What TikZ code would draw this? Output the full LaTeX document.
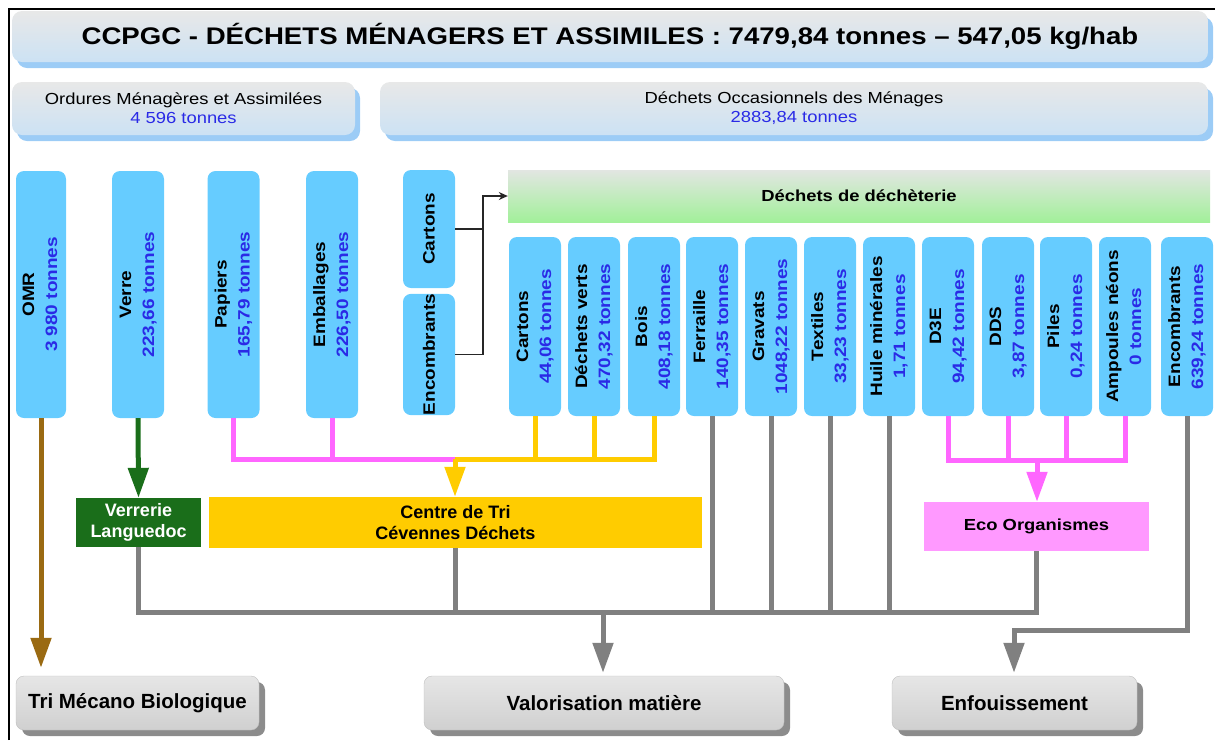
\documentclass[tikz,border=0pt]{standalone}
\usepackage{fontspec}
\setmainfont{Liberation Sans}
\newfontfamily\widef{Liberation Sans}[FakeStretch=1.15]
\usetikzlibrary{arrows.meta,shadows}
\definecolor{hdrtop}{HTML}{E8E8E8}
\definecolor{hdrbot}{HTML}{CCE2F4}
\definecolor{hdrshadow}{HTML}{9CCCF6}
\definecolor{greentop}{HTML}{E2E6E2}
\definecolor{greenbot}{HTML}{A2F09A}
\definecolor{boxblue}{HTML}{66CCFF}
\definecolor{tblue}{HTML}{2A2AE6}
\definecolor{yellowc}{HTML}{FFCC00}
\definecolor{pinkl}{HTML}{FF66FF}
\definecolor{pinkbox}{HTML}{FF99FF}
\definecolor{dgreen}{HTML}{1A6E1A}
\definecolor{brownc}{HTML}{9A6A12}
\definecolor{greyl}{HTML}{808080}
\definecolor{btop}{HTML}{E6E6E6}
\definecolor{bbot}{HTML}{D0D0D0}
\definecolor{bshadow}{HTML}{8C8C8C}
\newcommand\vlab[2]{\rotatebox{90}{\begin{tabular}{@{}c@{}}\textbf{#1}\\\textcolor{tblue}{\textbf{#2}}\end{tabular}}}
\newcommand\vone[1]{\rotatebox{90}{\textbf{#1}}}
\begin{document}
\begin{tikzpicture}[x=1pt,y=-1pt,
  hdr/.style={rounded corners=10pt, top color=hdrtop, bottom color=hdrbot, inner sep=0pt,
    drop shadow={shadow xshift=5pt, shadow yshift=-6pt, fill=hdrshadow, opacity=1},
    font=\widef\fontsize{16}{19}\selectfont, align=center},
  vbox/.style={fill=boxblue, rounded corners=8pt, inner sep=0pt, minimum width=52pt,
    font=\widef\fontsize{16.5}{23}\selectfont},
  rowbox/.style={vbox, minimum height=179pt},
  colbox/.style={vbox, minimum height=247pt},
  flat/.style={inner sep=0pt, align=center},
  bottombox/.style={rounded corners=8pt, top color=btop, bottom color=bbot, draw=black!25,
    inner sep=0pt, minimum height=54pt,
    drop shadow={shadow xshift=6pt, shadow yshift=-6pt, fill=bshadow, opacity=1},
    font=\bfseries\fontsize{20.5}{24}\selectfont},
  link/.style={line width=5pt},
  bigtip/.style={-{Triangle[length=30pt,width=20pt]}},
  ]
\useasboundingbox (0,0) rectangle (1215,740);
% frame
\draw[line width=2pt] (9,740) -- (9,9) -- (1215,9);

% headers
\node[hdr, minimum width=1196pt, minimum height=51pt, font=\widef\bfseries\fontsize{24}{28}\selectfont]
  (title) at (610,36.5) {CCPGC - DÉCHETS MÉNAGERS ET ASSIMILES : 7479,84 tonnes – 547,05 kg/hab};
\node[hdr, minimum width=343pt, minimum height=53pt] (oma) at (183.5,108.5)
  {Ordures Ménagères et Assimilées\\\textcolor{tblue}{4 596 tonnes}};
\node[hdr, minimum width=828pt, minimum height=53pt] (dom) at (794,108.5)
  {Déchets Occasionnels des Ménages\\\textcolor{tblue}{2883,84 tonnes}};

% left columns
\node[colbox, minimum width=50pt] (omr) at (41,294.5) {\vlab{OMR}{3 980 tonnes}};
\node[colbox] (verre) at (138,294.5) {\vlab{Verre}{223,66 tonnes}};
\node[colbox] (papiers) at (233.5,294.5) {\vlab{Papiers}{165,79 tonnes}};
\node[colbox] (emb) at (332,294.5) {\vlab{Emballages}{226,50 tonnes}};
\node[vbox, minimum height=118pt] (cartA) at (429,229) {\vone{Cartons}};
\node[vbox, minimum height=117pt] (encA) at (429,354.5) {\vone{Encombrants}};

% green box
\node[flat, minimum width=702pt, minimum height=52pt, top color=greentop, bottom color=greenbot,
  font=\widef\bfseries\fontsize{16}{19}\selectfont] (green) at (859,196) {Déchets de déchèterie};

% row boxes
\node[rowbox] (cart) at (535,326.5) {\vlab{Cartons}{44,06 tonnes}};
\node[rowbox] (dv) at (594,326.5) {\vlab{Déchets verts}{470,32 tonnes}};
\node[rowbox] (bois) at (654,326.5) {\vlab{Bois}{408,18 tonnes}};
\node[rowbox] (ferr) at (712,326.5) {\vlab{Ferraille}{140,35 tonnes}};
\node[rowbox] (grav) at (771,326.5) {\vlab{Gravats}{1048,22 tonnes}};
\node[rowbox] (text) at (830,326.5) {\vlab{Textiles}{33,23 tonnes}};
\node[rowbox] (huile) at (889,326.5) {\vlab{Huile minérales}{1,71 tonnes}};
\node[rowbox] (d3e) at (948,326.5) {\vlab{D3E}{94,42 tonnes}};
\node[rowbox] (dds) at (1008,326.5) {\vlab{DDS}{3,87 tonnes}};
\node[rowbox] (piles) at (1066,326.5) {\vlab{Piles}{0,24 tonnes}};
\node[rowbox] (amp) at (1125,326.5) {\vlab{Ampoules néons}{0 tonnes}};
\node[rowbox] (enc) at (1187,326.5) {\vlab{Encombrants}{639,24 tonnes}};

% intermediate boxes
\node[flat, fill=dgreen, text=white, minimum width=125pt, minimum height=49pt,
  font=\bfseries\fontsize{18}{21}\selectfont] (verrerie) at (138.5,522.5) {Verrerie\\Languedoc};
\node[flat, fill=yellowc, minimum width=493pt, minimum height=51pt,
  font=\bfseries\fontsize{18}{21}\selectfont] (tri) at (455.5,522.5) {Centre de Tri\\Cévennes Déchets};
\node[flat, fill=pinkbox, minimum width=225pt, minimum height=49pt,
  font=\widef\bfseries\fontsize{16}{19}\selectfont] (eco) at (1036.5,526.5) {Eco Organismes};

% bottom boxes
\node[bottombox, minimum width=243pt] (tmb) at (137.5,703) {Tri Mécano Biologique};
\node[bottombox, minimum width=360pt] (valo) at (604,703) {Valorisation matière};
\node[bottombox, minimum width=245pt] (enf) at (1014.5,703) {Enfouissement};

% junction coordinates
\coordinate (jc) at (455,459);
\coordinate (je) at (1037,460);
\coordinate (gl) at (603,612);
\coordinate (ge) at (1014,630);
\coordinate (bj) at (483,196);

% thin black connector
\draw[line width=1.3pt, black!85] (cartA.east) -- (cartA.east -| bj);
\draw[line width=1.3pt, black!85, -{Stealth[length=9pt,width=8pt]}] (encA.east) -| (bj) -- (green.west);

% brown and green arrows
\draw[link, brownc, bigtip, shorten >=8pt] (omr.south) -- (omr.south |- tmb.north);
\draw[link, dgreen, bigtip] (verre.south) -- (verrerie.north);

% pink and yellow to Centre de Tri
\draw[link, pinkl] (papiers.south) |- (jc);
\draw[link, pinkl] (emb.south) -- (emb.south |- jc);
\draw[link, yellowc] (bois.south) |- (jc);
\draw[link, yellowc] (cart.south) -- (cart.south |- jc);
\draw[link, yellowc] (dv.south) -- (dv.south |- jc);
\draw[link, yellowc, bigtip] (jc) -- (jc |- tri.north);

% pink to Eco Organismes
\draw[link, pinkl] (d3e.south) |- (amp.south |- je) -- (amp.south);
\draw[link, pinkl] (dds.south) -- (dds.south |- je);
\draw[link, pinkl] (piles.south) -- (piles.south |- je);
\draw[link, pinkl, bigtip] (je) -- (je |- eco.north);

% grey collectors
\draw[link, greyl] (verrerie.south) |- (gl) -| (eco.south);
\draw[link, greyl] (tri.south) -- (tri.south |- gl);
\draw[link, greyl] (ferr.south) -- (ferr.south |- gl);
\draw[link, greyl] (grav.south) -- (grav.south |- gl);
\draw[link, greyl] (text.south) -- (text.south |- gl);
\draw[link, greyl] (huile.south) -- (huile.south |- gl);
\draw[link, greyl, bigtip, shorten >=3pt] (gl) -- (gl |- valo.north);
\draw[link, greyl, bigtip, shorten >=3pt] (enc.south) |- (ge) -- (ge |- enf.north);
\end{tikzpicture}
\end{document}
